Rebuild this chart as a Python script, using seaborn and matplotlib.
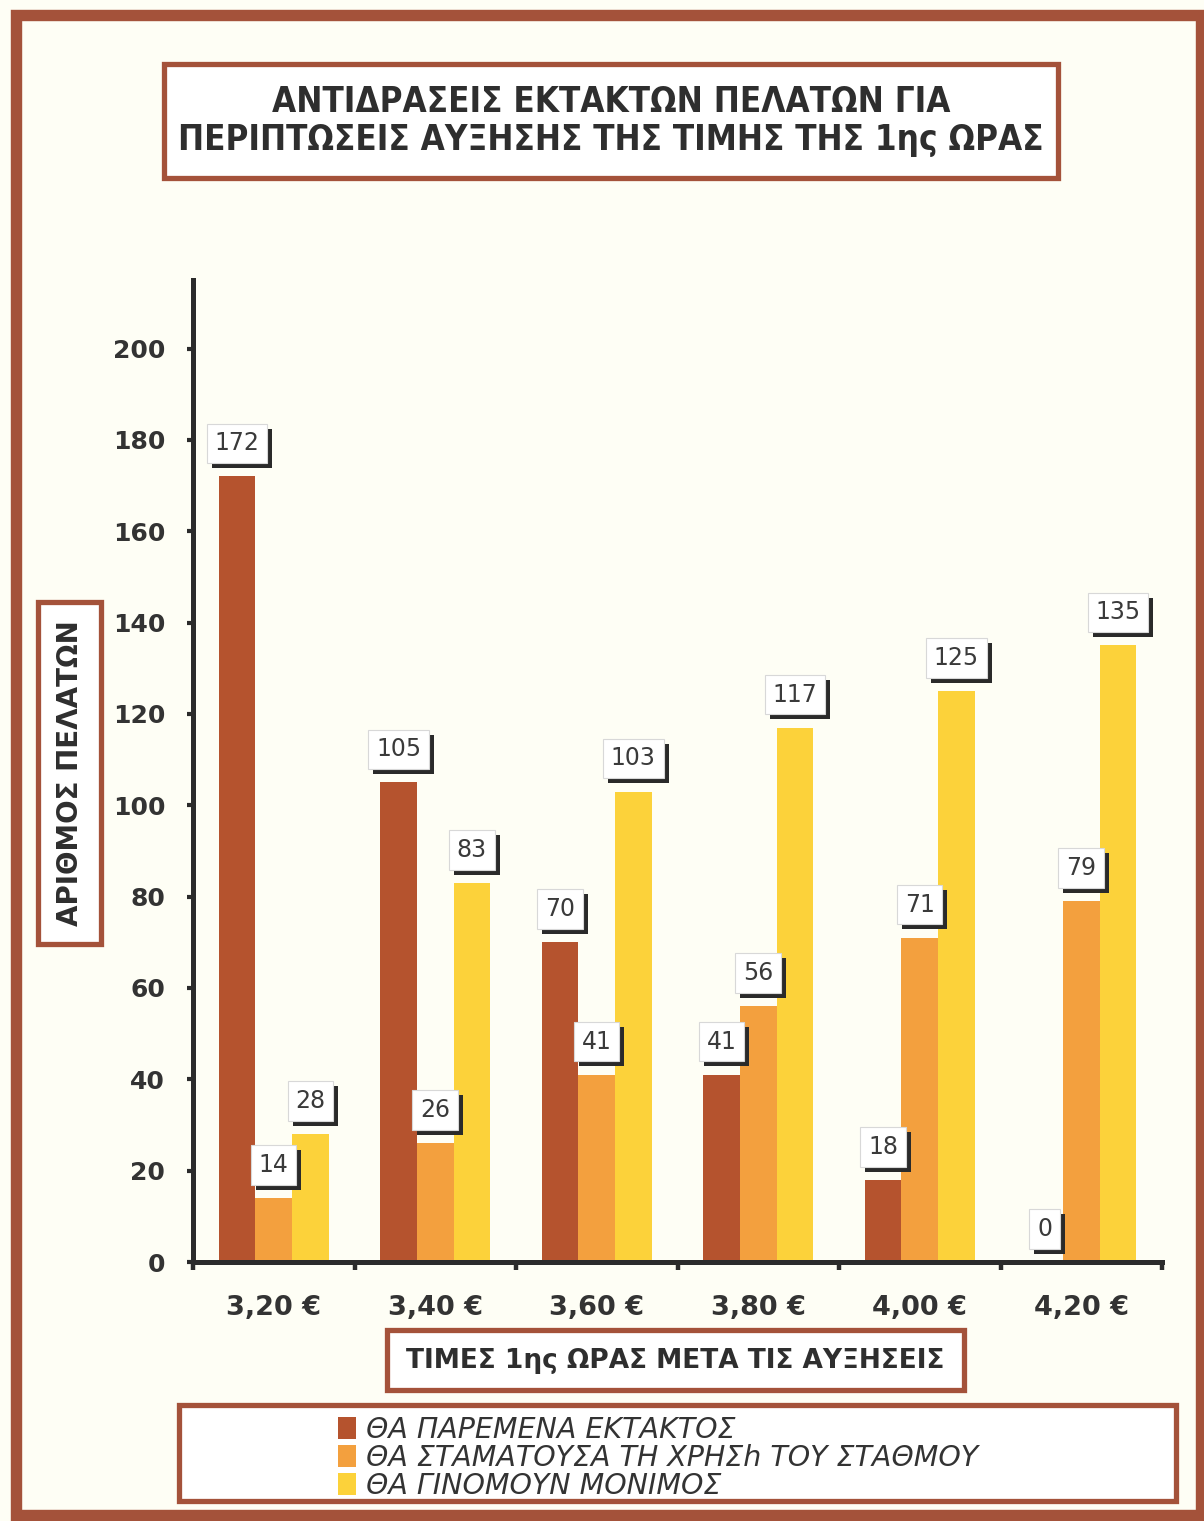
import matplotlib
matplotlib.use("Agg")
import matplotlib.pyplot as plt
import matplotlib.patheffects as pe
import seaborn as sns
import pandas as pd
from matplotlib.patches import Rectangle
from matplotlib.font_manager import FontProperties

# ---- data ----
prices = ["3,20 €", "3,40 €", "3,60 €", "3,80 €", "4,00 €", "4,20 €"]
stay_occasional = [172, 105, 70, 41, 18, 0]
stop_using = [14, 26, 41, 56, 71, 79]
become_permanent = [28, 83, 103, 117, 125, 135]
series_names = [
    "ΘΑ ΠΑΡΕΜΕΝΑ ΕΚΤΑΚΤΟΣ",
    "ΘΑ ΣΤΑΜΑΤΟΥΣΑ ΤΗ ΧΡΗΣh ΤΟΥ ΣΤΑΘΜΟΥ",
    "ΘΑ ΓΙΝΟΜΟΥΝ ΜΟΝΙΜΟΣ",
]
y_ticks = [0, 20, 40, 60, 80, 100, 120, 140, 160, 180, 200]
title_text = "ΑΝΤΙΔΡΑΣΕΙΣ ΕΚΤΑΚΤΩΝ ΠΕΛΑΤΩΝ ΓΙΑ\nΠΕΡΙΠΤΩΣΕΙΣ ΑΥΞΗΣΗΣ ΤΗΣ ΤΙΜΗΣ ΤΗΣ 1ης ΩΡΑΣ"
x_title = "ΤΙΜΕΣ 1ης ΩΡΑΣ ΜΕΤΑ ΤΙΣ ΑΥΞΗΣΕΙΣ"
y_title = "ΑΡΙΘΜΟΣ ΠΕΛΑΤΩΝ"

colors = ["#B5532E", "#F3A03E", "#FCD23A"]
frame_col = "#A4523A"
ink = "#333333"
bg = "#FEFEF5"

df = pd.DataFrame({
    "price": prices * 3,
    "count": stay_occasional + stop_using + become_permanent,
    "response": [series_names[0]] * 6 + [series_names[1]] * 6 + [series_names[2]] * 6,
})

W, H = 1204, 1521
sns.set_theme(style="white")
plt.rcParams["font.family"] = ["DejaVu Sans"]

fig = plt.figure(figsize=(W / 100, H / 100), dpi=100, facecolor=bg)


def px_rect(x0, y0, x1, y1, lw, ec, fc="none", z=0):
    r = Rectangle((x0 / W, 1 - y1 / H), (x1 - x0) / W, (y1 - y0) / H,
                  transform=fig.transFigure, lw=lw, ec=ec, fc=fc, zorder=z)
    fig.add_artist(r)
    return r


# outer frame
px_rect(16, 15, 1201, 1515, lw=8.2, ec=frame_col, z=0)

ax = fig.add_axes([193 / W, 1 - 1262 / H, 969 / W, 982 / H])
ax.set_facecolor(bg)
sns.barplot(data=df, x="price", y="count", hue="response", palette=colors,
            width=0.68, saturation=1, linewidth=0, ax=ax)

handles, labels = ax.get_legend_handles_labels()
ax.get_legend().remove()

ax.set_xlim(-0.5, 5.5)
ax.set_ylim(0, 215)
ax.set_yticks(y_ticks)
ax.set_xlabel("")
ax.set_ylabel("")
for s in ["top", "right"]:
    ax.spines[s].set_visible(False)
for s in ["left", "bottom"]:
    ax.spines[s].set_color("#2B2B2B")
    ax.spines[s].set_linewidth(3.6)

ax.tick_params(axis="y", which="major", left=True, length=4, width=3,
               color="#2B2B2B", pad=16, labelsize=18, labelcolor=ink)
ax.tick_params(axis="x", which="major", bottom=False, length=0, pad=24,
               labelsize=19.5, labelcolor=ink)
ax.set_xticks([i - 0.5 for i in range(7)], minor=True)
ax.tick_params(axis="x", which="minor", bottom=True, length=6, width=3.2,
               color="#2B2B2B", direction="out")
for lab in ax.get_yticklabels() + ax.get_xticklabels():
    lab.set_fontweight("bold")

# value labels in white boxes with a dark drop shadow
for cont in ax.containers:
    for bar, v in zip(cont, cont.datavalues):
        cx = bar.get_x() + bar.get_width() / 2
        t = ax.annotate(f"{v:.0f}", xy=(cx, v), xytext=(0, 23.8),
                        textcoords="offset points", ha="center", va="center",
                        fontsize=17, color="#3A3A3A", zorder=6,
                        bbox=dict(boxstyle="square,pad=0.33", fc="white",
                                  ec="#D8D8D8", lw=0.8))
        t.get_bbox_patch().set_path_effects([
            pe.SimplePatchShadow(offset=(3.6, -3.6), shadow_rgbFace="#2A2A2A",
                                 alpha=1.0),
            pe.Normal(),
        ])

# title box
px_rect(164, 64, 1058, 178, lw=3.8, ec=frame_col, fc="white", z=1)
fig.text(611 / W, 1 - 121 / H, title_text, ha="center", va="center",
         fontsize=25, fontweight="bold", fontstretch="condensed",
         color="#2E2E2E", linespacing=1.15, zorder=2)

# y-axis title box
px_rect(38, 602, 101, 944, lw=3.8, ec=frame_col, fc="white", z=1)
fig.text(70 / W, 1 - 773 / H, y_title, ha="center", va="center",
         rotation=90, fontsize=20, fontweight="bold", color="#2E2E2E",
         zorder=2)

# x-axis title box
px_rect(387, 1330, 964, 1390, lw=3.8, ec=frame_col, fc="white", z=1)
fig.text(675 / W, 1 - 1361 / H, x_title, ha="center", va="center",
         fontsize=19, fontweight="bold", color="#2E2E2E", zorder=2)

# legend box
px_rect(179, 1405, 1176, 1501, lw=3.8, ec=frame_col, fc="white", z=1)
leg = fig.legend(handles, labels, loc="center left",
                 bbox_to_anchor=(338 / W, 1 - 1458 / H), frameon=False,
                 prop=FontProperties(family="DejaVu Sans", style="italic",
                                     size=20.5),
                 handlelength=0.62, handleheight=0.8, handletextpad=0.38,
                 labelspacing=0.0, borderpad=0, borderaxespad=0)
leg.set_zorder(3)
for t in leg.get_texts():
    t.set_color(ink)

fig.savefig("out.png", dpi=100, facecolor=fig.get_facecolor())
